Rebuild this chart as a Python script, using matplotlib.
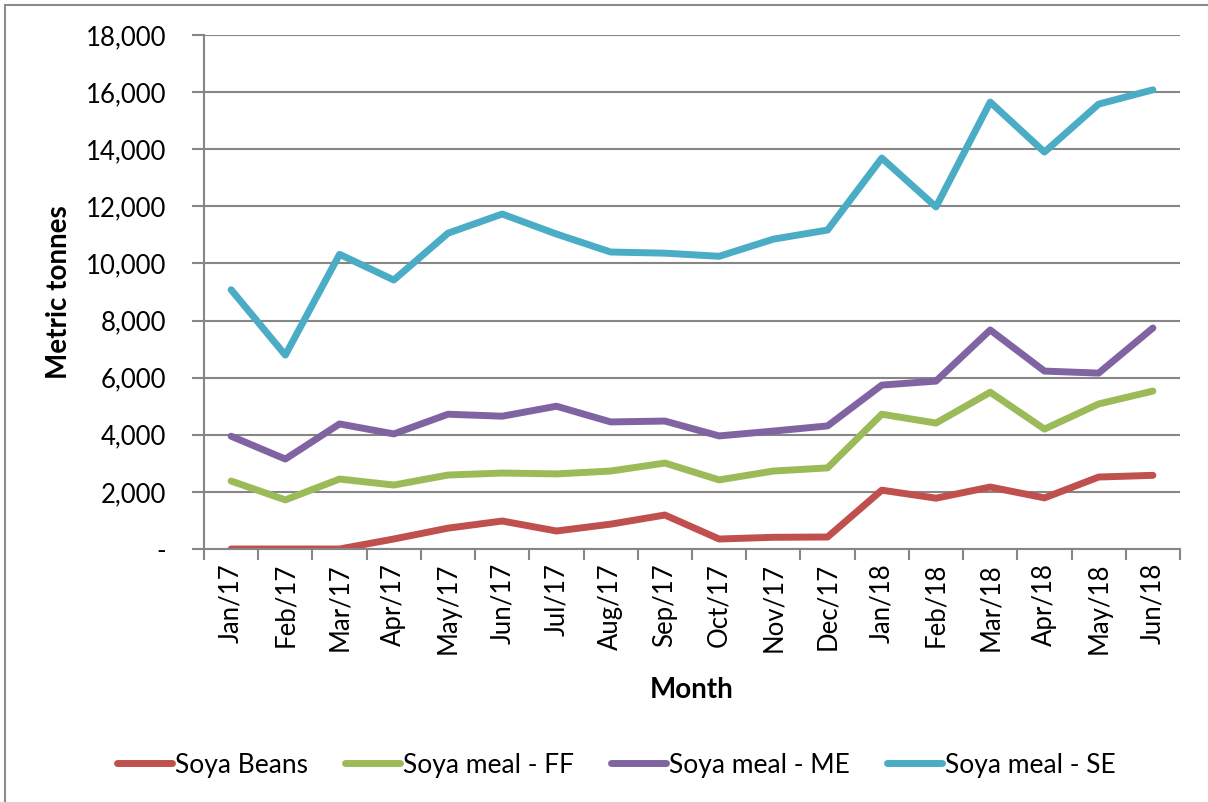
import matplotlib.pyplot as plt
from matplotlib.patches import Rectangle
from matplotlib.ticker import FuncFormatter

plt.rcParams['font.family'] = ['Lato', 'DejaVu Sans']

months = ['Jan/17', 'Feb/17', 'Mar/17', 'Apr/17', 'May/17', 'Jun/17', 'Jul/17', 'Aug/17', 'Sep/17',
          'Oct/17', 'Nov/17', 'Dec/17', 'Jan/18', 'Feb/18', 'Mar/18', 'Apr/18', 'May/18', 'Jun/18']

soya_beans = [0, 0, 0, 350, 730, 980, 630, 870, 1190, 350, 410, 420,
              2060, 1780, 2170, 1790, 2520, 2580]
meal_ff = [2380, 1720, 2450, 2240, 2590, 2660, 2630, 2730, 3010, 2420, 2730, 2840,
           4720, 4410, 5490, 4200, 5080, 5530]
meal_me = [3950, 3150, 4380, 4030, 4720, 4650, 5000, 4450, 4480, 3960, 4130, 4310,
           5740, 5880, 7670, 6230, 6160, 7740]
meal_se = [9080, 6790, 10320, 9420, 11060, 11730, 11030, 10400, 10360, 10250, 10850, 11170,
           13690, 11980, 15650, 13900, 15580, 16080]

series = [('Soya Beans', soya_beans, '#C0504D'),
          ('Soya meal - FF', meal_ff, '#9BBB59'),
          ('Soya meal - ME', meal_me, '#8064A2'),
          ('Soya meal - SE', meal_se, '#4BACC6')]

fig = plt.figure(figsize=(12.08, 8.02), dpi=100)
# chart frame, cut at the right and bottom as in the original
fig.patches.append(Rectangle((5/1208, -0.1), 1.2, 1 - 5/802 + 0.1, transform=fig.transFigure,
                             fill=False, edgecolor='#8c8c8c', lw=1.5))
ax = fig.add_axes([204/1208, 1 - 549/802, 976/1208, 514/802])

x = range(len(months))
for name, vals, col in series:
    ax.plot(x, vals, color=col, lw=5, label=name, solid_capstyle='round', solid_joinstyle='round')

ax.set_xlim(-0.5, len(months) - 0.5)
ax.set_ylim(0, 18000)
ax.set_yticks(range(0, 18001, 2000))
ax.yaxis.set_major_formatter(FuncFormatter(lambda v, p: '-' if v == 0 else f'{int(v):,}'))
ax.yaxis.grid(True, color='#868686', lw=1.5)
ax.set_axisbelow(True)

ax.set_xticks([i for i in x])
ax.set_xticklabels(months, rotation=90, fontsize=18.5)
ax.set_xticks([i - 0.5 for i in range(len(months) + 1)], minor=True)
ax.tick_params(axis='x', which='major', length=0, pad=10)
ax.tick_params(axis='x', which='minor', length=8, width=1.5, color='#868686')
ax.tick_params(axis='y', length=9, width=1.5, color='#868686', labelsize=18.5, pad=18)

for s in ['top', 'right']:
    ax.spines[s].set_visible(False)
for s in ['left', 'bottom']:
    ax.spines[s].set_color('#868686')
    ax.spines[s].set_linewidth(1.5)

ax.set_ylabel('Metric tonnes', fontsize=20, fontweight='bold', labelpad=10)
ax.set_xlabel('Month', fontsize=20, fontweight='bold', labelpad=16)

fig.legend(loc='center', bbox_to_anchor=(0.51, 1 - 765/802), ncol=4, frameon=False,
           fontsize=19, handlelength=2.1, columnspacing=1.4, handletextpad=0.1)

fig.savefig('out.png', dpi=100)
